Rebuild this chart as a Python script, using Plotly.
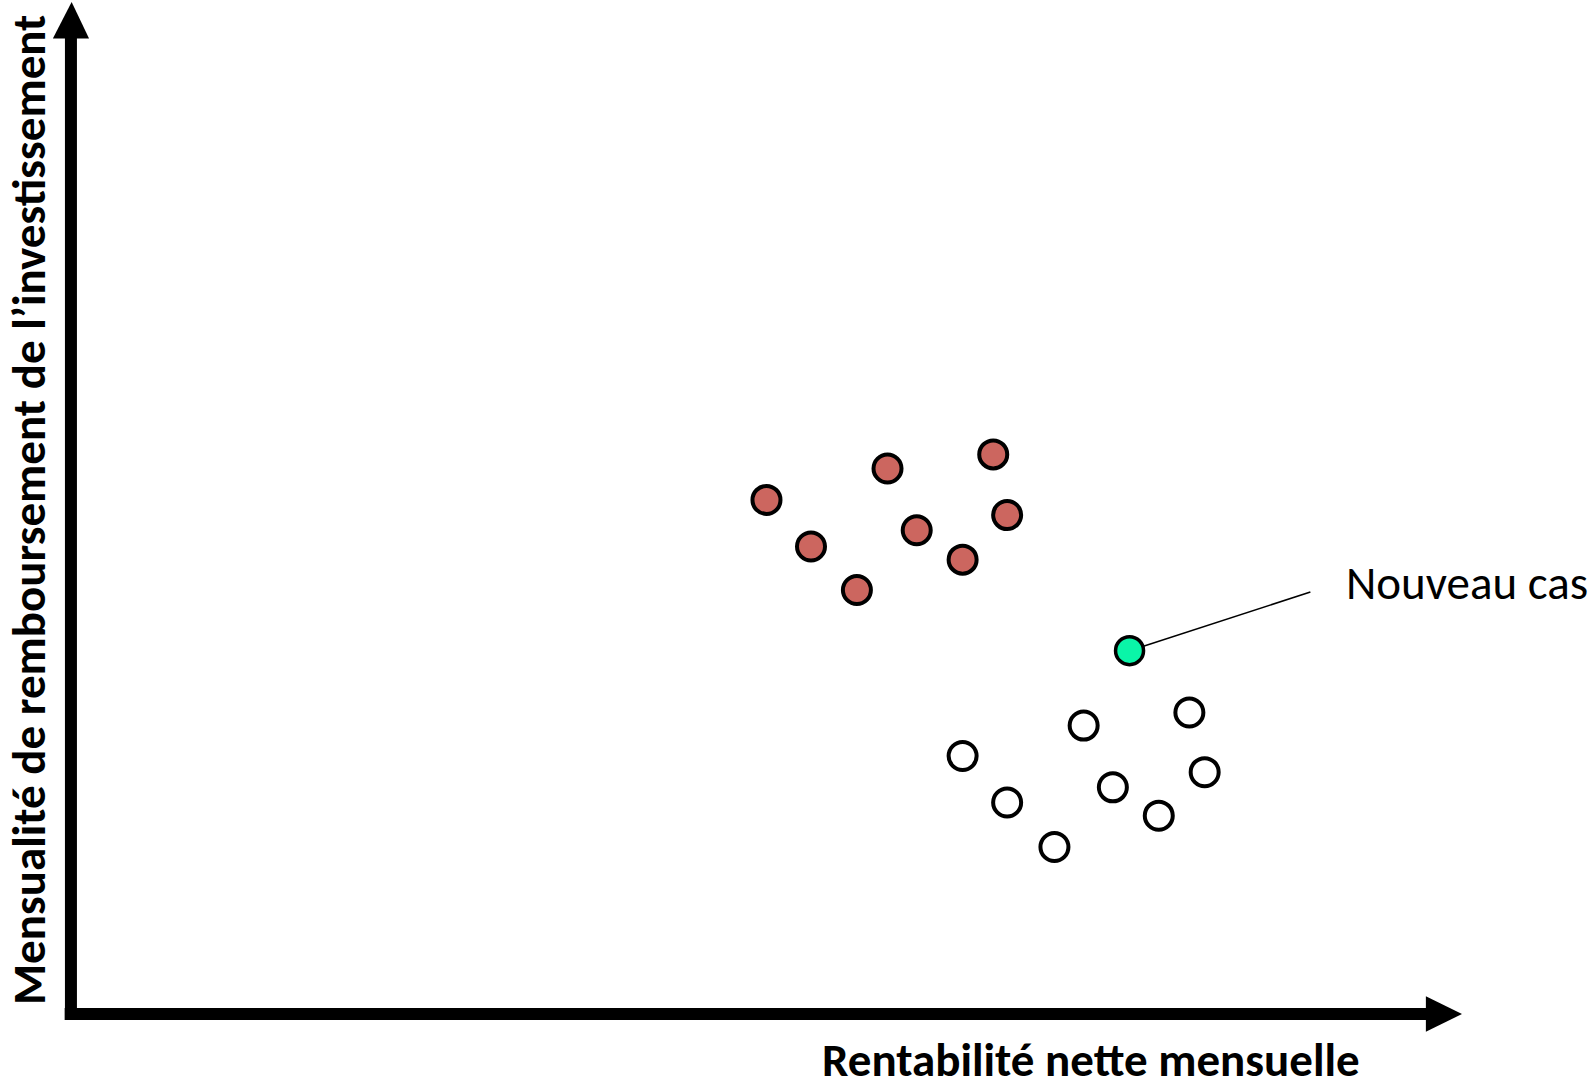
import plotly.graph_objects as go

# ---- data (abstract units: x 0..10 along the horizontal axis, y 0..10 along the vertical axis)
red_x = [5.00, 5.32, 5.65, 5.87, 6.08, 6.41, 6.63, 6.73]
red_y = [5.08, 4.62, 4.19, 5.39, 4.78, 4.49, 5.53, 4.93]

white_x = [6.41, 6.73, 7.07, 7.28, 7.49, 7.82, 8.04, 8.15]
white_y = [2.55, 2.09, 1.65, 2.85, 2.24, 1.96, 2.98, 2.39]

new_x = [7.61]
new_y = [3.59]
new_label = "Nouveau cas"
label_pos = [8.91, 4.17]  # end of leader line

x_title = "Rentabilité nette mensuelle"
y_title = "Mensualité de remboursement de l’investissement"

FONT = "Carlito, Calibri, Lato, sans-serif"

fig = go.Figure()

fig.add_trace(go.Scatter(x=red_x, y=red_y, mode="markers",
                         marker=dict(size=28, color="#CC665F", line=dict(color="black", width=4)),
                         hoverinfo="skip", showlegend=False))
fig.add_trace(go.Scatter(x=white_x, y=white_y, mode="markers",
                         marker=dict(size=28, color="white", line=dict(color="black", width=4)),
                         hoverinfo="skip", showlegend=False))
fig.add_trace(go.Scatter(x=new_x, y=new_y, mode="markers",
                         marker=dict(size=28, color="#0AF5A8", line=dict(color="black", width=3.5)),
                         hoverinfo="skip", showlegend=False))

# leader line
fig.add_shape(type="line", x0=new_x[0], y0=new_y[0], x1=label_pos[0], y1=label_pos[1],
              line=dict(color="black", width=1.6), layer="below")

# axes with arrow heads
fig.add_shape(type="line", x0=-0.045, y0=0, x1=9.76, y1=0, line=dict(color="black", width=12), layer="below")
fig.add_shape(type="path", path="M 9.74 0.175 L 10.0 0 L 9.74 -0.175 Z",
              fillcolor="black", line=dict(color="black", width=0), layer="below")
fig.add_shape(type="line", x0=0, y0=-0.06, x1=0, y1=9.66, line=dict(color="black", width=12), layer="below")
fig.add_shape(type="path", path="M -0.13 9.64 L 0.005 10.0 L 0.13 9.64 Z",
              fillcolor="black", line=dict(color="black", width=0), layer="below")

fig.add_annotation(x=9.15, y=4.26, text=new_label, showarrow=False, xanchor="left", yanchor="middle",
                   font=dict(family=FONT, size=47, color="black"))
fig.add_annotation(x=7.33, y=-0.455, text=f"<b>{x_title}</b>", showarrow=False, xanchor="center",
                   yanchor="middle", font=dict(family=FONT, size=47, color="black"))
fig.add_annotation(x=-0.302, y=4.98, text=f"<b>{y_title}</b>", showarrow=False, textangle=-90,
                   xanchor="center", yanchor="middle", font=dict(family=FONT, size=47, color="black"))

fig.update_layout(
    width=1590, height=1089,
    margin=dict(l=0, r=0, t=0, b=0),
    paper_bgcolor="white", plot_bgcolor="white",
    xaxis=dict(range=[-0.510, 10.920], visible=False, fixedrange=True),
    yaxis=dict(range=[-0.741, 10.020], visible=False, fixedrange=True),
    showlegend=False,
)

fig.write_html("out.html", post_script="document.body.style.margin='0';document.body.style.overflow='hidden';",
               config={"displayModeBar": False})
